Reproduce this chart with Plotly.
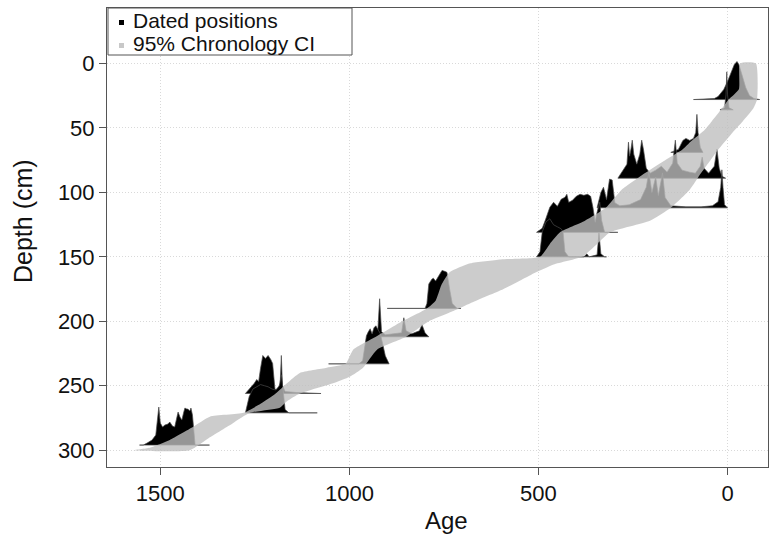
import plotly.graph_objects as go

# ---------------- data ----------------
# dated positions: depth (cm) of each date
date_depths = [28, 36, 69, 89, 112, 131, 150, 190, 212, 233, 256, 271, 296]

# calibrated age densities (age, relative density) for each dated position
d1_age = [90, 35, 25, 10, 0, -10, -18, -25, -30, -38, -48, -58, -70, -85]
d1_dens = [0, 1, 3, 10, 18, 28, 35, 38, 35, 25, 12, 4, 1, 0]
d2_age = [20, 8, 4, 2, 0, -4, -15]
d2_dens = [0, 2, 15, 38, 15, 2, 0]
d3_age = [150, 130, 118, 110, 100, 90, 84, 81, 78, 72, 65]
d3_dens = [0, 3, 12, 14, 12, 14, 20, 38, 20, 5, 0]
d4_age = [290, 280, 272, 266, 262, 259, 255, 252, 248, 240, 232, 227, 222, 215, 205, 190, 175, 160,
          145, 138, 133, 120, 100, 85, 72, 67, 62, 50, 35, 28, 22, 15, 5]
d4_dens = [0, 6, 11, 14, 36, 22, 30, 38, 24, 14, 24, 38, 28, 10, 5, 8, 12, 6,
           15, 38, 15, 8, 6, 5, 12, 21, 10, 5, 12, 29, 10, 2, 0]
d5_age = [345, 335, 328, 320, 312, 305, 298, 285, 260, 230, 215, 208, 200, 190, 183, 172, 165, 150,
          110, 70, 40, 25, 18, 15, 12, 8, 0]
d5_dens = [0, 15, 20, 8, 28, 27, 5, 2, 3, 8, 20, 35, 15, 30, 12, 34, 10, 2,
           1, 1, 2, 6, 20, 37, 20, 3, 0]
d6_age = [505, 490, 482, 470, 460, 450, 440, 430, 425, 420, 410, 400, 390, 380, 370, 362, 356, 350,
          345, 338, 333, 325, 290]
d6_dens = [0, 4, 12, 25, 30, 26, 33, 35, 38, 30, 32, 36, 38, 37, 38, 36, 25, 10,
           20, 30, 12, 0, 0]
d7_age = [505, 496, 490, 480, 470, 460, 450, 440, 435, 430, 420, 380, 372, 366, 345, 340, 335, 325, 320]
d7_dens = [0, 5, 25, 35, 38, 32, 30, 28, 25, 5, 0, 0, 3, 0, 2, 24, 3, 0, 0]
d8_age = [900, 800, 795, 790, 782, 778, 772, 765, 755, 748, 742, 735, 728, 715, 705]
d8_dens = [0, 0, 5, 25, 30, 31, 28, 33, 39, 38, 37, 20, 5, 0, 0]
d9_age = [930, 925, 920, 915, 905, 880, 862, 856, 850, 835, 815, 808, 800, 790]
d9_dens = [0, 5, 38, 5, 2, 3, 4, 19, 6, 3, 6, 12, 4, 0]
d10_age = [1055, 975, 965, 960, 955, 950, 945, 940, 935, 930, 925, 918, 912, 905, 895]
d10_dens = [0, 0, 3, 18, 28, 32, 35, 30, 36, 38, 34, 30, 20, 8, 0]
d11_age = [1275, 1268, 1260, 1252, 1245, 1240, 1235, 1229, 1222, 1215, 1208, 1203, 1197, 1190,
           1183, 1180, 1177, 1170, 1140, 1075]
d11_dens = [0, 3, 6, 10, 14, 12, 25, 38, 35, 38, 34, 30, 5, 2, 10, 38, 8, 2, 1, 0]
d12_age = [1275, 1265, 1255, 1245, 1235, 1225, 1215, 1205, 1195, 1185, 1180, 1175, 1170, 1160, 1085]
d12_dens = [0, 15, 22, 24, 26, 25, 24, 22, 21, 25, 35, 20, 3, 0, 0]
d13_age = [1555, 1545, 1535, 1522, 1512, 1507, 1504, 1500, 1494, 1488, 1480, 1475, 1468, 1462,
           1457, 1453, 1448, 1443, 1438, 1435, 1430, 1427, 1422, 1419, 1415, 1411, 1408, 1370]
d13_dens = [0, 0, 2, 5, 10, 25, 38, 22, 18, 20, 21, 23, 19, 18,
            25, 33, 28, 25, 33, 37, 36, 36, 34, 37, 30, 10, 0, 0]

date_ages = [d1_age, d2_age, d3_age, d4_age, d5_age, d6_age, d7_age, d8_age, d9_age,
             d10_age, d11_age, d12_age, d13_age]
date_dens = [d1_dens, d2_dens, d3_dens, d4_dens, d5_dens, d6_dens, d7_dens, d8_dens, d9_dens,
             d10_dens, d11_dens, d12_dens, d13_dens]

# 95% chronology CI: older (left) and younger (right) edges
ci_old_depth = [0, 20, 28, 35, 45, 52, 60, 67, 75, 85, 98, 112, 122, 131, 140, 150, 152, 155, 162, 172,
                184, 190, 200, 212, 222, 233, 236, 240, 248, 256, 264, 271, 274, 282, 292, 298, 300]
ci_old_age = [-33, -30, -3, 15, 42, 62, 95, 120, 165, 218, 280, 322, 377, 443, 470, 496, 600, 680, 735, 757,
              772, 795, 860, 930, 990, 1010, 1060, 1131, 1165, 1195, 1235, 1280, 1369, 1414, 1475, 1528, 1573]
ci_young_depth = [0, 28, 35, 45, 52, 60, 67, 75, 85, 98, 112, 122, 131, 140, 150, 156, 164, 176, 186, 192,
                  200, 212, 222, 236, 243, 248, 256, 262, 267, 271, 279, 290, 300]
ci_young_age = [-75, -78, -68, -40, -18, 5, 25, 45, 70, 100, 150, 205, 311, 345, 385, 460, 520, 600, 680, 725,
                790, 850, 927, 964, 999, 1043, 1131, 1165, 1184, 1263, 1308, 1369, 1422]

x_ticks = [1500, 1000, 500, 0]
y_ticks = [0, 50, 100, 150, 200, 250, 300]
legend_labels = ["Dated positions", "95% Chronology CI"]
legend_colors = ["black", "#c8c8c8"]

# ---------------- figure ----------------
DATE_HEIGHT = 29.5  # depth units of a density's maximum
FONT = "Liberation Sans, Arial, sans-serif"
W, H = 769, 538
ML, MR, MT, MB = 107, 1, 8, 71
PW, PH = W - ML - MR, H - MT - MB


def px_to_paper(px, py):
    return (px - ML) / PW, (H - MB - py) / PH


fig = go.Figure()

for depth, ages, dens in zip(date_depths, date_ages, date_dens):
    m = max(dens)
    ys = [depth - d / m * DATE_HEIGHT for d in dens]
    xs = list(ages) + [ages[0]]
    ys = ys + [ys[0]]
    fig.add_trace(go.Scatter(
        x=xs, y=ys, mode="lines", fill="toself", fillcolor="black",
        line=dict(color="#4a4a4a", width=0.7), hoverinfo="skip", showlegend=False))

band_x = ci_young_age + ci_old_age[::-1] + [ci_young_age[0]]
band_y = ci_young_depth + ci_old_depth[::-1] + [ci_young_depth[0]]
fig.add_trace(go.Scatter(
    x=band_x, y=band_y, mode="lines", fill="toself",
    fillcolor="rgba(190,190,190,0.79)", line=dict(width=0, shape="spline", smoothing=0.5),
    hoverinfo="skip", showlegend=False))

axis_common = dict(
    showline=True, linecolor="#555555", linewidth=1, mirror=True,
    ticks="outside", ticklen=7, tickcolor="#555555", tickwidth=1,
    showgrid=True, gridcolor="#d9d9d9", griddash="1px,2px", gridwidth=1,
    zeroline=False, tickfont=dict(family=FONT, size=22, color="#111111"),
)

# manual legend (box, keys and labels)
bx0, by1 = px_to_paper(108, 8)
bx1, by0 = px_to_paper(352, 55)
shapes = [dict(type="rect", xref="paper", yref="paper", x0=bx0, x1=bx1, y0=by0, y1=by1,
               line=dict(color="#555555", width=1), fillcolor="white", layer="above")]
annotations = []
for i, (lab, col) in enumerate(zip(legend_labels, legend_colors)):
    cy = 20 + 23 * i
    kx0, ky0 = px_to_paper(119, cy + 5)
    kx1, ky1 = px_to_paper(124, cy)
    shapes.append(dict(type="rect", xref="paper", yref="paper", x0=kx0, x1=kx1, y0=ky0, y1=ky1,
                       line=dict(width=0), fillcolor=col, layer="above"))
    tx, ty = px_to_paper(131, cy)
    annotations.append(dict(text=lab, xref="paper", yref="paper", x=tx, y=ty, xanchor="left",
                            yanchor="middle", showarrow=False,
                            font=dict(family=FONT, size=21, color="#111111")))

annotations += [
    dict(text="Depth (cm)", xref="paper", yref="paper", x=px_to_paper(23, 0)[0], y=px_to_paper(0, 221)[1],
         textangle=-90, showarrow=False, xanchor="center", yanchor="middle",
         font=dict(family=FONT, size=25, color="#111111")),
    dict(text="Age", xref="paper", yref="paper", x=px_to_paper(446, 0)[0], y=px_to_paper(0, 520)[1],
         xanchor="center", yanchor="middle",
         showarrow=False, font=dict(family=FONT, size=24, color="#111111")),
]

fig.update_layout(
    width=W, height=H,
    margin=dict(l=ML, r=MR, t=MT, b=MB),
    paper_bgcolor="white", plot_bgcolor="white",
    font=dict(family=FONT, color="#111111"),
    showlegend=False,
    xaxis=dict(range=[1641, -107], tickvals=x_ticks, ticktext=[str(v) for v in x_ticks], **axis_common),
    yaxis=dict(range=[313, -43], tickvals=y_ticks, ticktext=[str(v) for v in y_ticks], **axis_common),
    shapes=shapes,
    annotations=annotations,
)

fig.write_html("out.html")
